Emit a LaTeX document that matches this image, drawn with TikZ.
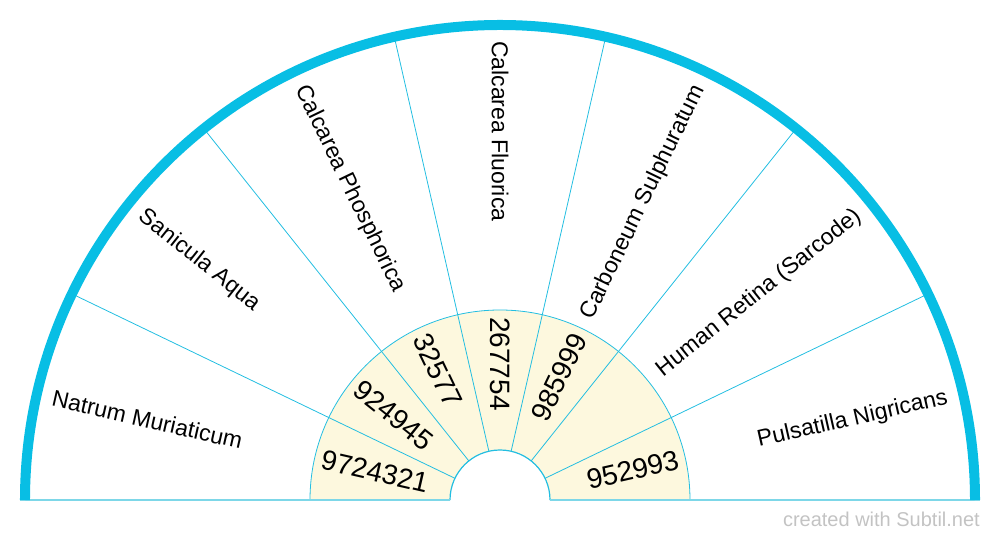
\documentclass[tikz,border=0pt]{standalone}
\usepackage{fontspec}
\setmainfont{Liberation Sans}
\definecolor{arcblue}{RGB}{8,190,228}
\definecolor{linecyan}{RGB}{35,190,225}
\definecolor{baseblue}{RGB}{125,215,232}
\definecolor{ringfill}{RGB}{253,248,222}
\definecolor{wmgray}{RGB}{195,195,195}
\begin{document}
\begin{tikzpicture}[x=1pt,y=1pt,
  lbl/.style={font=\fontsize{23}{27}\selectfont, inner sep=0pt},
  num/.style={font=\fontsize{28}{32}\selectfont, inner sep=0pt},
  spoke/.style={draw=linecyan, line width=0.8pt}]
\useasboundingbox (-500,-40) rectangle (500,500);
% inner ring
\fill[ringfill] (0:190) arc (0:180:190) -- (180:50) arc (180:0:50) -- cycle;
\draw[linecyan, line width=0.8pt] (0:190) arc (0:180:190);
\draw[linecyan, line width=1.2pt] (0:50) arc (0:180:50);
% spokes
\foreach \i in {1,...,6}{
  \coordinate (sin\i) at ({\i*180/7}:50);
  \coordinate (sout\i) at ({\i*180/7}:471);
  \draw[spoke] (sin\i) -- (sout\i);
}
% baseline
\coordinate (bl1) at (-480,0);
\coordinate (bl2) at (-50,0);
\coordinate (br1) at (50,0);
\coordinate (br2) at (480,0);
\draw[baseblue, line width=2.2pt] (bl1) -- (bl2);
\draw[baseblue, line width=2.2pt] (br1) -- (br2);
% outer arc
\draw[arcblue, line width=10pt] (0:475) arc (0:180:475);
% outer labels (right side)
\node[lbl, anchor=east, rotate={0.5*180/7}] (l0) at ({0.5*180/7}:459) {Pulsatilla Nigricans};
\node[lbl, anchor=east, rotate={1.5*180/7}] (l1) at ({1.5*180/7}:459) {Human Retina (Sarcode)};
\node[lbl, anchor=east, rotate={2.5*180/7}] (l2) at ({2.5*180/7}:459) {Carboneum Sulphuratum};
% outer labels (left side)
\node[lbl, anchor=west, rotate={3.5*180/7-180}] (l3) at ({3.5*180/7}:459) {Calcarea Fluorica};
\node[lbl, anchor=west, rotate={4.5*180/7-180}] (l4) at ({4.5*180/7}:459) {Calcarea Phosphorica};
\node[lbl, anchor=west, rotate={5.5*180/7-180}] (l5) at ({5.5*180/7}:459) {Sanicula Aqua};
\node[lbl, anchor=west, rotate={6.5*180/7-180}] (l6) at ({6.5*180/7}:459) {Natrum Muriaticum};
% numbers
\node[num, anchor=east, rotate={0.5*180/7}] (n0) at ({0.5*180/7}:183) {952993};
\node[num, anchor=east, rotate={2.5*180/7}] (n2) at ({2.5*180/7}:183) {985999};
\node[num, anchor=west, rotate={3.5*180/7-180}] (n3) at ({3.5*180/7}:183) {267754};
\node[num, anchor=west, rotate={4.5*180/7-180}] (n4) at ({4.5*180/7}:183) {32577};
\node[num, anchor=west, rotate={5.5*180/7-180}] (n5) at ({5.5*180/7}:183) {924945};
\node[num, anchor=west, rotate={6.5*180/7-180}] (n6) at ({6.5*180/7}:183) {9724321};
% watermark
\node[anchor=east, inner sep=0pt, font=\fontsize{20}{23}\selectfont, text=wmgray] (wmk) at (480,-19) {created with Subtil.net};
\end{tikzpicture}
\end{document}
